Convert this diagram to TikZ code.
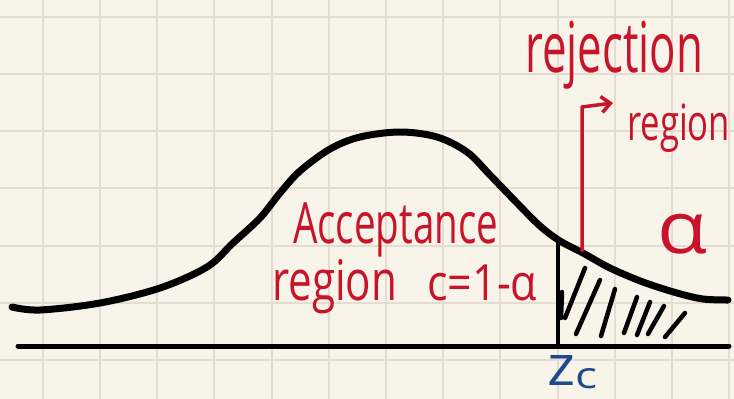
\documentclass[tikz,border=0pt]{standalone}
\usepackage{fontspec}
\usepackage{graphicx}
\setmainfont{Open Sans}
\usetikzlibrary{arrows.meta}
\definecolor{paper}{HTML}{F8F4EA}
\definecolor{gridc}{HTML}{E2DDD0}
\definecolor{inkred}{HTML}{C8142A}
\definecolor{inkblue}{HTML}{1E4A8C}
\newcommand\fitw[3]{\resizebox{#1}{\height}{\fontsize{#2}{#2}\selectfont #3}}
\tikzset{
  curveline/.style={line width=7pt, line cap=round, line join=round, black},
  axisline/.style={line width=5pt, line cap=round, black},
  hatchline/.style={line width=4.5pt, line cap=round, black},
  redink/.style={inkred, inner sep=0pt, anchor=base west},
  redline/.style={inkred, line width=3.5pt, line cap=round, line join=round},
}
\begin{document}
\begin{tikzpicture}[x=1pt,y=-1pt]
\useasboundingbox (0,0) rectangle (734,399);
\fill[paper] (0,0) rectangle (734,399);
% grid
\foreach \gx in {42.7,99.9,157.1,214.3,271.5,328.7,385.9,443.1,500.3,557.5,614.7,671.9,729.1}
  \draw[gridc, line width=2pt] (\gx,0) -- (\gx,399);
\foreach \gy in {16.7,73.9,131.1,188.3,245.5,302.7,359.9}
  \draw[gridc, line width=2pt] (0,\gy) -- (734,\gy);
% axis
\coordinate (axL) at (18,346);
\coordinate (axR) at (729,346);
\draw[axisline] (axL) -- (axR);
% hatching
\foreach \a/\b in {{562,292}/{561,318},{585,268}/{565,318},{600,280}/{576,334},{615,289}/{601,336},{637,297}/{624,333},{650,302}/{637,335},{664,306}/{648,334},{685,313}/{665,337}}
  \draw[hatchline] (\a) -- (\b);
% z_c line
\coordinate (zcTop) at (558,242);
\coordinate (zcBot) at (558,346);
\draw[line width=3.5pt, black] (zcBot) -- (zcTop);
% bell curve
\draw[curveline] plot[smooth, tension=0.55] coordinates {
 (12,307) (40,310) (100,303) (160,288) (207,267) (233,243) (260,218) (280,193)
 (300,171) (330,149) (360,137) (400,132) (437,137) (467,152) (490,175) (517,203)
 (540,226) (560,241) (583,253) (610,268) (643,282) (677,293) (703,299) (728,300)};
% red arrow
\coordinate (arA) at (582,251);
\coordinate (arB) at (582,107);
\coordinate (arC) at (613,103);
\draw[redline, -{Straight Barb[length=9pt,width=16pt,line width=3.5pt]}] (arA) -- (arB) -- (arC);
% texts
\node[redink] (rej) at (525,72) {\fitw{178pt}{70pt}{rejection}};
\node[redink] (reg) at (627,140) {\fitw{103pt}{50pt}{region}};
\node[redink] (alpha) at (657,253) {\fitw{50pt}{72pt}{α}};
\node[redink] (acc) at (293,243) {\fitw{205pt}{57pt}{Acceptance}};
\node[redink] (reg2) at (272,300) {\fitw{125pt}{56pt}{region}\hspace{30pt}\fitw{110pt}{50pt}{c=1-α}};
\node[inkblue, inner sep=0pt, anchor=base west] (zc) at (547,385)
  {\resizebox{28pt}{30pt}{\fontsize{40}{40}\selectfont z}\raisebox{-3pt}{\resizebox{22pt}{20pt}{\fontsize{30}{30}\selectfont c}}};
\end{tikzpicture}
\end{document}
